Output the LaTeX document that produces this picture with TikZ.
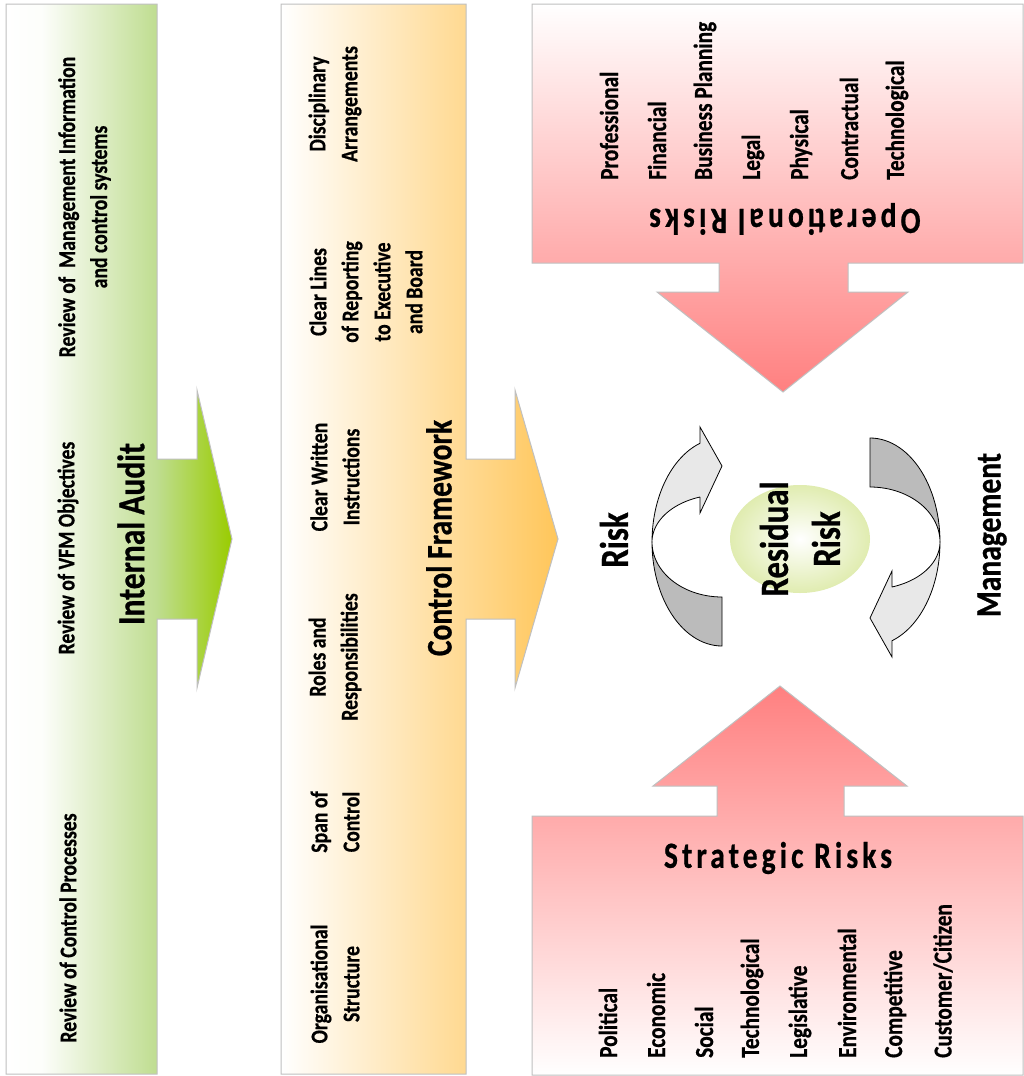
\documentclass[tikz,border=0pt]{standalone}
\usepackage{fontspec}
\setmainfont{Carlito}[FakeStretch=0.82, BoldFeatures={FakeBold=0.6}]
\newfontfamily\spacedfont{Carlito}[FakeStretch=0.8, LetterSpace=11, BoldFeatures={FakeBold=0.6}]
\usetikzlibrary{shapes.geometric}
\definecolor{grn}{HTML}{99CC00}
\definecolor{gmid}{HTML}{BFDD90}
\definecolor{org}{HTML}{FFC65A}
\definecolor{rd}{HTML}{FF8080}
\definecolor{bord}{HTML}{C0C0C0}
\definecolor{lgray}{HTML}{E8E8E8}
\definecolor{dgray}{HTML}{BBBBBB}
\definecolor{ell}{HTML}{E0ECB0}
\pgfdeclarehorizontalshading{gshade}{100bp}{color(0bp)=(white); color(25bp)=(white); color(33bp)=(white!96!gmid); color(58.4bp)=(gmid); color(75bp)=(grn); color(100bp)=(grn)}
\begin{document}
\begin{tikzpicture}[x=1pt,y=-1pt,
  panel/.style={draw=bord, line width=1pt},
  txt/.style={font={\fontsize{24}{32}\selectfont\bfseries}, align=center, inner sep=0pt, rotate=90},
  riskitem/.style={font={\fontsize{26}{32}\selectfont\bfseries}, inner sep=0pt, rotate=90, anchor=west},
  twist/.style={draw=black, line width=0.8pt},
  spaced/.style={font={\spacedfont\fontsize{37}{44}\selectfont\bfseries}, inner sep=0pt}]
\useasboundingbox (0,0) rectangle (1024,1076);
\fill[white] (0,0) rectangle (1024,1076);

% green panel
\shadedraw[panel, shading=gshade] (6,4) -- (157,4) -- (157,459) -- (197,459) -- (197,390) -- (232,539) -- (197,688) -- (197,619) -- (157,619) -- (157,1074) -- (6,1074) -- cycle;
% orange panel
\shadedraw[panel, left color=white, right color=org] (281,4) -- (466,4) -- (466,459) -- (515,459) -- (515,390) -- (558,539) -- (515,688) -- (515,619) -- (466,619) -- (466,1074) -- (281,1074) -- cycle;
% top red panel
\shadedraw[panel, top color=white, bottom color=rd] (532,4) -- (1023,4) -- (1023,263) -- (848,263) -- (848,292) -- (908,292) -- (783,392) -- (657,292) -- (719,292) -- (719,263) -- (532,263) -- cycle;
% bottom red panel
\shadedraw[panel, bottom color=white, top color=rd] (532,1075) -- (1023,1075) -- (1023,816) -- (844,816) -- (844,786) -- (907,786) -- (780,686) -- (653,786) -- (717,786) -- (717,816) -- (532,816) -- cycle;

% curved arrows
\foreach \ang in {0,180}{
\begin{scope}[rotate around={\ang:(796,542)}]
\filldraw[twist, fill=dgray] plot[domain=180:90, samples=30] ({722+70*cos(\x)},{542+104*sin(\x)}) -- (722,597) -- plot[domain=90:180, samples=30] ({722+70*cos(\x)},{542+55*sin(\x)}) -- cycle;
\filldraw[twist, fill=lgray] (700,427) -- (722,466) -- (700,513) -- (700,497) -- plot[domain=251.7:180, samples=30] ({722+70*cos(\x)},{542+47.4*sin(\x)}) -- plot[domain=180:251.7, samples=30] ({722+70*cos(\x)},{542+104*sin(\x)}) -- cycle;
\end{scope}}

% residual risk ellipse
\node[ellipse, minimum width=140pt, minimum height=108pt, inner color=white, outer color=ell] (rr) at (800,539) {};
\node[font={\fontsize{40}{52}\selectfont\bfseries}, align=center, inner sep=0pt, rotate=90] (rrt) at (rr.center) {Residual\\Risk};
\node[font={\fontsize{40}{48}\selectfont\bfseries}, inner sep=0pt, rotate=90] (risk) at (614,540) {Risk};
\node[font={\fontsize{36}{44}\selectfont\bfseries}, inner sep=0pt, rotate=90] (mgmt) at (992,535) {Management};

% left panel texts
\node[txt] (rcp) at (68,928) {Review of Control Processes};
\node[txt] (vfm) at (68,548) {Review of VFM Objectives};
\node[txt] (mis) at (84.5,207) {Review of\ \ Management Information\\and control systems};
\node[font={\fontsize{38.5}{46}\selectfont\bfseries}, inner sep=0pt, rotate=90] (ia) at (131,534) {Internal Audit};

% middle panel texts
\node[txt] (os) at (335,984) {Organisational\\Structure};
\node[txt] (soc) at (335,822) {Span of\\Control};
\node[txt] (rar) at (335,657) {Roles and\\Responsibilities};
\node[txt] (cwi) at (335,477) {Clear Written\\Instructions};
\node[txt] (clr) at (366,292) {Clear Lines\\of Reporting\\to Executive\\and Board};
\node[txt] (da) at (335,104) {Disciplinary\\Arrangements};
\node[font={\fontsize{36}{44}\selectfont\bfseries}, inner sep=0pt, rotate=90] (cf) at (439,538) {Control Framework};

% operational risks
\node[riskitem] (o1) at (609,180) {Professional};
\node[riskitem] (o2) at (657,180) {Financial};
\node[riskitem] (o3) at (705,180) {Business Planning};
\node[riskitem] (o4) at (753,180) {Legal};
\node[riskitem] (o5) at (801,180) {Physical};
\node[riskitem] (o6) at (849,180) {Contractual};
\node[riskitem] (o7) at (897,180) {Technological};
\node[spaced, rotate=180] (opr) at (785,219) {Operational Risks};

% strategic risks
\node[spaced] (str) at (778,858) {Strategic Risks};
\node[riskitem] (s1) at (608,1058) {Political};
\node[riskitem] (s2) at (656,1058) {Economic};
\node[riskitem] (s3) at (704,1058) {Social};
\node[riskitem] (s4) at (752,1058) {Technological};
\node[riskitem] (s5) at (800,1058) {Legislative};
\node[riskitem] (s6) at (847,1058) {Environmental};
\node[riskitem] (s7) at (895,1058) {Competitive};
\node[riskitem] (s8) at (943,1058) {Customer/Citizen};
\end{tikzpicture}
\end{document}
